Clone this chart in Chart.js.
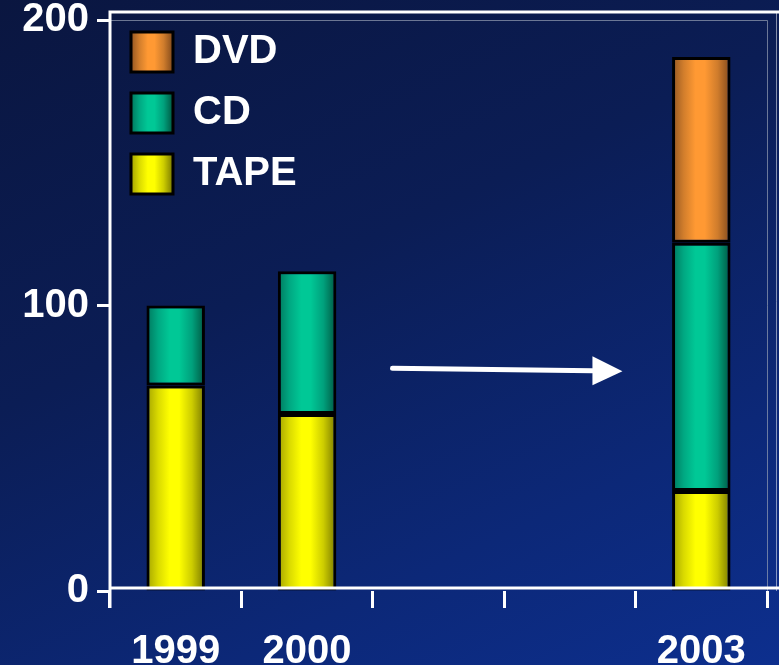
<!DOCTYPE html>
<html>
<head>
<meta charset="utf-8">
<script src="https://cdn.jsdelivr.net/npm/chart.js@4.4.1/dist/chart.umd.min.js"></script>
<style>
html, body { margin: 0; padding: 0; }
body { width: 779px; height: 665px; overflow: hidden;
  background: linear-gradient(155deg, #0a1640 0%, #0b1d55 40%, #0c2878 75%, #0d2f8e 100%); }
#wrap { width: 779px; height: 665px; position: relative; }
</style>
</head>
<body>
<div id="wrap"><canvas id="mediaChart" width="779" height="665"></canvas></div>
<script>
const years = ['1999', '2000', '2001', '2002', '2003'];
const yearLabels = ['1999', '2000', '', '', '2003'];
const tapeValues = [72, 62, null, null, 35];
const cdValues = [28, 50, null, null, 87];
const dvdValues = [null, null, null, null, 65];
const yTicks = [0, 100, 200];

// colour bands for the "cylinder" look: left edge, highlight, right edge
const tapeBands = ['#a3a300', '#dada00', '#ffff00', '#ffff00', '#cccc00', '#787800'];
const cdBands = ['#00775d', '#00a882', '#00c896', '#00c896', '#00a07c', '#005640'];
const dvdBands = ['#935622', '#d27e2c', '#ff9933', '#ff9933', '#cf7c2c', '#80491c'];

const BAR_PCT = 0.445;
const LEGEND_PAD = 21;
const LEGEND_BOX = 42;

function bandGradient(c2d, x0, x1, bands) {
    const g = c2d.createLinearGradient(x0, 0, x1, 0);
    const stops = [0, 0.2, 0.4, 0.56, 0.78, 1];
    bands.forEach((col, i) => g.addColorStop(stops[i], col));
    return g;
}

function barFill(bands) {
    return function (c) {
        const chart = c.chart;
        const x = chart.scales.x;
        if (!chart.chartArea || !x || c.dataIndex === undefined) return bands[2];
        const center = x.getPixelForValue(c.dataIndex);
        const half = (x.width / years.length) * BAR_PCT / 2;
        if (!isFinite(center) || !isFinite(half)) return bands[2];
        return bandGradient(chart.ctx, center - half, center + half, bands);
    };
}

const framePlugin = {
    id: 'frame',
    afterDatasetsDraw(chart) {
        const c = chart.ctx;
        const a = chart.chartArea;
        const W = chart.width;
        c.save();
        // thin grey plot border
        c.strokeStyle = 'rgba(150,160,180,0.7)';
        c.lineWidth = 1;
        c.beginPath();
        c.moveTo(a.left, a.top + 0.5);
        c.lineTo(a.right + 0.5, a.top + 0.5);
        c.lineTo(a.right + 0.5, a.bottom);
        c.stroke();
        // white frame
        c.strokeStyle = '#ffffff';
        c.lineWidth = 3;
        c.beginPath();
        c.moveTo(W, a.top - 8);
        c.lineTo(a.left, a.top - 8);
        c.lineTo(a.left, a.bottom + 17);
        c.moveTo(a.left, a.bottom - 3);
        c.lineTo(W, a.bottom - 3);
        c.stroke();
        c.lineWidth = 1;
        c.strokeStyle = 'rgba(255,255,255,0.5)';
        c.beginPath();
        c.moveTo(W - 2.5, a.top - 8);
        c.lineTo(W - 2.5, a.bottom);
        c.stroke();

        // arrow 2000 -> 2003
        const xs = chart.scales.x, ys = chart.scales.y;
        const x0 = xs.getPixelForValue(1.65), y0 = ys.getPixelForValue(78);
        const x1 = xs.getPixelForValue(3.4), y1 = ys.getPixelForValue(77);
        const head = 30;
        c.fillStyle = '#ffffff';
        c.strokeStyle = '#ffffff';
        c.lineWidth = 5;
        c.lineCap = 'round';
        c.beginPath();
        c.moveTo(x0, y0);
        c.lineTo(x1 - head, y1 - 0.4);
        c.stroke();
        c.beginPath();
        c.moveTo(x1, y1);
        c.lineTo(x1 - head, y1 - 15);
        c.lineTo(x1 - head, y1 + 14);
        c.closePath();
        c.fill();
        c.restore();
    }
};

const ctx = document.getElementById('mediaChart').getContext('2d');

const mediaChart = new Chart(ctx, {
    type: 'bar',
    data: {
        labels: yearLabels,
        datasets: [
            { label: 'TAPE', data: tapeValues, backgroundColor: barFill(tapeBands), bands: tapeBands },
            { label: 'CD', data: cdValues, backgroundColor: barFill(cdBands), bands: cdBands },
            { label: 'DVD', data: dvdValues, backgroundColor: barFill(dvdBands), bands: dvdBands }
        ]
    },
    options: {
        responsive: false,
        animation: false,
        devicePixelRatio: 1,
        layout: { padding: { top: 20, right: 12, left: 0, bottom: 0 } },
        datasets: {
            bar: {
                borderColor: '#000000',
                borderWidth: 3,
                borderSkipped: false,
                categoryPercentage: 1,
                barPercentage: BAR_PCT
            }
        },
        plugins: {
            tooltip: { enabled: false },
            legend: {
                position: 'chartArea',
                align: 'start',
                reverse: true,
                title: { display: true, text: '', padding: 0, font: { size: 11, lineHeight: 1 } },
                labels: {
                    color: '#ffffff',
                    font: { family: 'Liberation Sans, Arial, sans-serif', size: 40, weight: 'bold', lineHeight: 1 },
                    boxWidth: LEGEND_BOX,
                    boxHeight: 40,
                    padding: LEGEND_PAD,
                    generateLabels(chart) {
                        const a = chart.chartArea;
                        return chart.data.datasets.map((ds, i) => {
                            let fill = ds.bands[2];
                            if (a && isFinite(a.left)) {
                                const bx = a.left + LEGEND_PAD;
                                fill = bandGradient(chart.ctx, bx, bx + LEGEND_BOX, ds.bands);
                            }
                            return {
                                text: ds.label,
                                fillStyle: fill,
                                strokeStyle: '#000000',
                                lineWidth: 3,
                                fontColor: '#ffffff',
                                hidden: false,
                                datasetIndex: i
                            };
                        });
                    }
                }
            }
        },
        scales: {
            x: {
                stacked: true,
                afterFit(s) { s.height = 74; s.paddingLeft = 0; s.paddingRight = 0; },
                grid: {
                    offset: true,
                    drawOnChartArea: false,
                    color: '#ffffff',
                    lineWidth: 3,
                    tickLength: 17,
                    tickWidth: 3,
                    tickColor: '#ffffff'
                },
                border: { display: false },
                ticks: {
                    color: '#ffffff',
                    padding: 24,
                    maxRotation: 0,
                    autoSkip: false,
                    font: { family: 'Liberation Sans, Arial, sans-serif', size: 40, weight: 'bold', lineHeight: 1 }
                }
            },
            y: {
                stacked: true,
                min: 0,
                max: 200,
                afterFit(s) { s.width = 110; s.paddingTop = 0; s.paddingBottom = 0; },
                afterBuildTicks(s) { s.ticks = yTicks.map(v => ({ value: v })); },
                grid: {
                    drawOnChartArea: false,
                    color: '#ffffff',
                    tickLength: 13,
                    tickWidth: 3,
                    tickColor: '#ffffff'
                },
                border: { display: false },
                ticks: {
                    color: '#ffffff',
                    padding: 8,
                    font: { family: 'Liberation Sans, Arial, sans-serif', size: 40, weight: 'bold', lineHeight: 1 }
                }
            }
        }
    },
    plugins: [framePlugin]
});
</script>
</body>
</html>
